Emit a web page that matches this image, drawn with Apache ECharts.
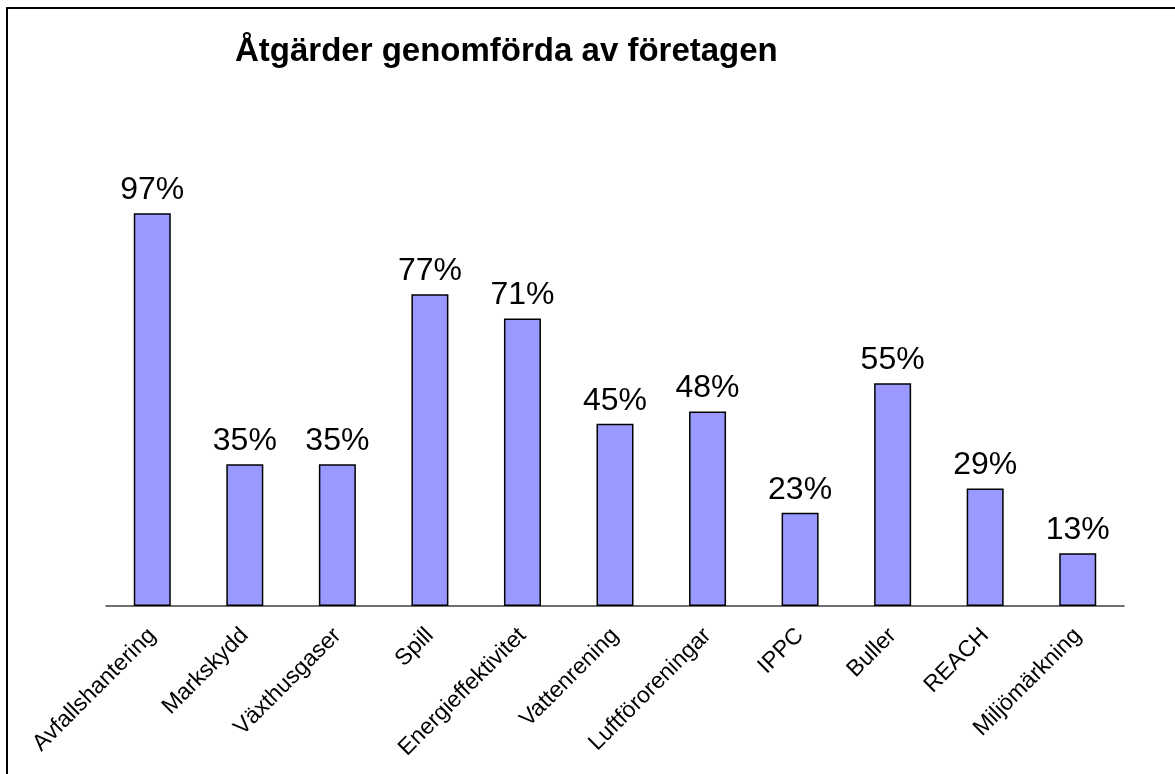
<!DOCTYPE html>
<html>
<head>
<meta charset="utf-8">
<script src="https://cdn.jsdelivr.net/npm/echarts@6/dist/echarts.min.js"></script>
<style>
html,body{margin:0;padding:0;background:#fff;}
#chart{width:1175px;height:774px;}
</style>
</head>
<body>
<div id="chart"></div>
<script>
const categories = ["Avfallshantering","Markskydd","Växthusgaser","Spill","Energieffektivitet","Vattenrening","Luftföroreningar","IPPC","Buller","REACH","Miljömärkning"];
const values = [97,35,35,77,71,45,48,23,55,29,13];
const titleText = "Åtgärder genomförda av företagen";

const chart = echarts.init(document.getElementById('chart'), null, {renderer:'canvas'});
chart.setOption({
  animation:false,
  backgroundColor:'#fff',
  title:{
    text:titleText,
    left:230, top:30,
    textStyle:{fontFamily:'Liberation Sans, Arial, sans-serif', fontWeight:'bold', fontSize:33, color:'#000'}
  },
  graphic:[
    {type:'polyline', shape:{points:[[7,774],[7,8],[1175,8]]}, style:{stroke:'#000', lineWidth:2, fill:null}, silent:true}
  ],
  grid:{left:106, right:51, top:201, bottom:168, containLabel:false},
  xAxis:{
    type:'category',
    data:categories,
    axisLine:{show:true, lineStyle:{color:'#404040', width:1.5}},
    axisTick:{show:false},
    axisLabel:{rotate:45, margin:26, fontFamily:'Liberation Sans, Arial, sans-serif', fontSize:23, color:'#000', interval:0}
  },
  yAxis:{
    type:'value', min:0, max:100,
    show:false
  },
  series:[{
    type:'bar',
    data:values,
    barWidth:37,
    itemStyle:{color:'#9999FF', borderColor:'#000', borderWidth:1.5},
    label:{show:true, position:'top', distance:7, formatter:'{c}%', fontFamily:'Liberation Sans, Arial, sans-serif', fontSize:32, color:'#000'}
  }]
});
</script>
</body>
</html>
